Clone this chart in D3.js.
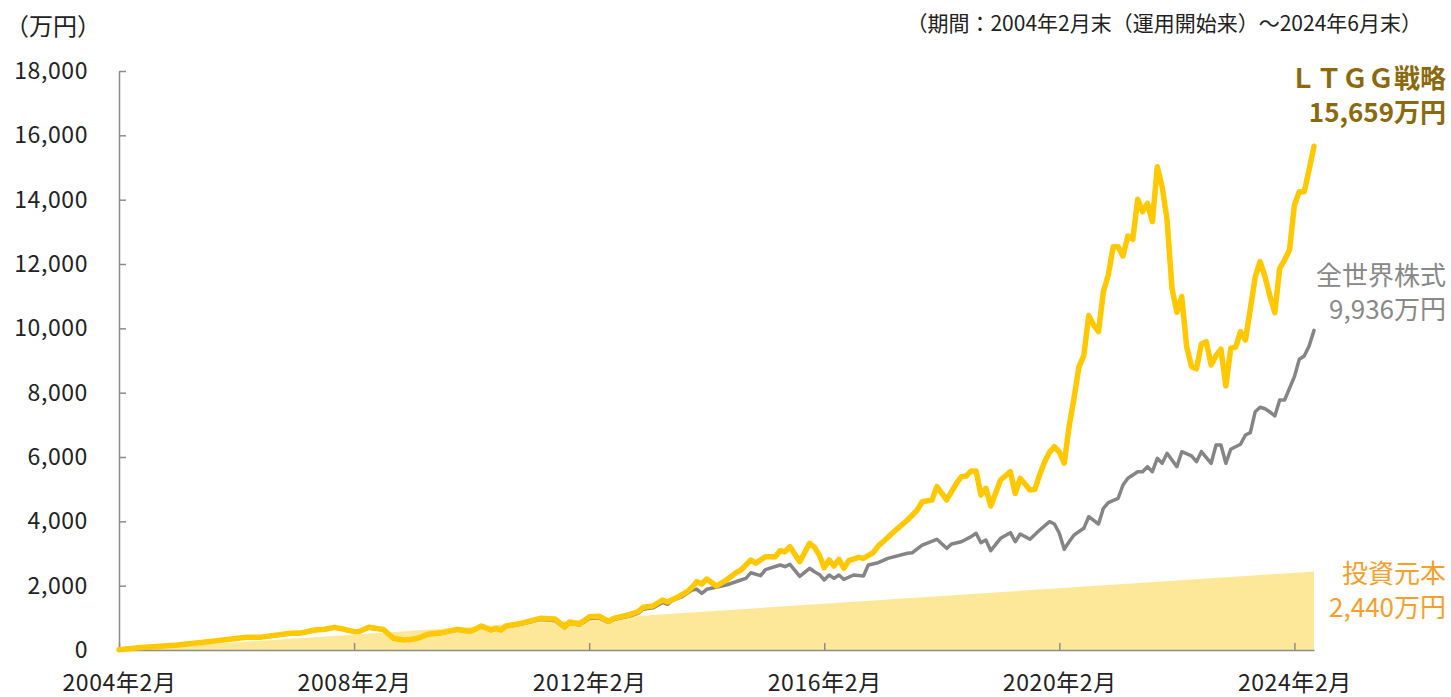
<!DOCTYPE html>
<html lang="ja">
<head>
<meta charset="utf-8">
<script src="https://cdn.jsdelivr.net/npm/d3@7"></script>
<style>
  body { margin: 0; background: #fff; }
  text { font-family: "Noto Sans CJK JP", "Noto Sans", sans-serif; }
</style>
</head>
<body>
<svg id="chart" width="1451" height="697"></svg>
<script>
// months counted from 2004年2月 (0) to 2024年6月 (244), values in 万円
const ltggMonth = [0, 4, 12, 20, 26, 29, 35, 37, 40, 42, 44, 46, 48, 49, 51, 54, 56, 58, 59, 61,
    63, 66, 69, 71, 72, 74, 76, 77, 78, 79, 82, 86, 89, 91, 92, 94, 96, 98, 100, 101,
    104, 106, 107, 109, 111, 112, 114, 116, 117, 118, 119, 120, 122, 124, 126, 127, 129, 130, 132, 134,
    135, 136, 137, 139, 141, 142, 143, 144, 145, 146, 147, 148, 149, 151, 152, 154, 155, 156, 159, 161,
    163, 164, 166, 167, 169, 171, 172, 173, 174, 175, 176, 177, 178, 180, 182, 183, 184, 186, 187, 188,
    189, 190, 191, 192, 193, 194, 195, 196, 197, 198, 199, 200, 201, 202, 203, 204, 205, 206, 207, 208,
    209, 210, 211, 212, 213, 214, 215, 216, 217, 218, 219, 220, 221, 222, 223, 224, 225, 226, 227, 228,
    229, 230, 231, 232, 233, 234, 235, 236, 237, 238, 239, 240, 241, 242, 243, 244];
const ltggValue = [10, 70, 155, 290, 395, 400, 519, 525, 622, 643, 705, 643, 570, 575, 705, 640, 363, 311, 315, 363,
    487, 539, 643, 591, 595, 746, 622, 674, 622, 746, 829, 985, 964, 720, 870, 808, 1030, 1050, 895, 985,
    1088, 1191, 1330, 1368, 1555, 1490, 1638, 1813, 1950, 2124, 2052, 2207, 1990, 2176, 2403, 2487, 2798, 2700, 2901, 2901,
    3087, 3056, 3212, 2745, 3317, 3200, 2950, 2560, 2798, 2612, 2819, 2540, 2777, 2881, 2850, 3025, 3233, 3367, 3783, 4042,
    4353, 4611, 4664, 5077, 4664, 5182, 5388, 5410, 5565, 5565, 4819, 5027, 4477, 5285, 5543, 4872, 5338, 4974, 4996, 5450,
    5850, 6150, 6320, 6150, 5810, 6950, 7826, 8800, 9150, 10400, 10100, 9900, 11140, 11659, 12539, 12539, 12249, 12871, 12768, 14011,
    13627, 13886, 13316, 15020, 14400, 13369, 11245, 10500, 10985, 9430, 8808, 8740, 9514, 9586, 8861, 9150, 9349, 8208, 9380, 9411,
    9896, 9638, 10600, 11607, 12073, 11607, 11000, 10487, 11867, 12125, 12436, 13835, 14250, 14250, 14924, 15659];

const worldMonth = [0, 4, 12, 20, 26, 29, 35, 37, 40, 42, 44, 46, 48, 49, 51, 54, 56, 58, 59, 61,
    63, 66, 69, 71, 72, 74, 76, 77, 78, 79, 82, 86, 89, 91, 92, 94, 96, 98, 100, 101,
    104, 106, 107, 109, 111, 112, 113, 115, 117, 118, 119, 120, 124, 127, 128, 129, 131, 132, 135, 136,
    137, 139, 141, 142, 143, 144, 145, 146, 147, 148, 150, 152, 153, 155, 157, 161, 162, 164, 167, 169,
    170, 172, 174, 175, 176, 177, 178, 180, 182, 183, 184, 186, 188, 190, 191, 192, 193, 194, 195, 197,
    198, 200, 201, 202, 204, 205, 206, 208, 209, 210, 211, 212, 213, 214, 216, 217, 219, 220, 221, 223,
    224, 225, 226, 227, 229, 230, 231, 232, 233, 234, 235, 236, 237, 238, 240, 241, 242, 243, 244];
const worldValue = [10, 65, 150, 282, 385, 390, 505, 512, 605, 628, 690, 628, 555, 560, 685, 620, 350, 300, 303, 350,
    470, 522, 622, 575, 578, 722, 602, 652, 603, 720, 800, 945, 915, 690, 835, 775, 980, 1000, 860, 945,
    1045, 1140, 1270, 1310, 1480, 1420, 1540, 1658, 1865, 1887, 1760, 1887, 2021, 2176, 2228, 2400, 2310, 2500, 2643, 2590,
    2664, 2290, 2540, 2434, 2350, 2176, 2332, 2228, 2332, 2197, 2332, 2300, 2643, 2714, 2850, 3006, 3025, 3264, 3441, 3161,
    3295, 3367, 3523, 3628, 3336, 3420, 3087, 3472, 3647, 3367, 3606, 3441, 3731, 3989, 3917, 3628, 3131, 3367, 3575, 3783,
    4144, 3917, 4405, 4580, 4716, 5130, 5338, 5543, 5543, 5699, 5543, 5960, 5804, 6115, 5699, 6165, 6032, 5854, 6165, 5804,
    6373, 6373, 5804, 6240, 6395, 6684, 6756, 7409, 7546, 7500, 7400, 7275, 7773, 7773, 8497, 9038, 9141, 9450, 9936];

const principalMonth = [0, 244];
const principalValue = [0, 2440];

const xTickMonth = [0, 48, 96, 144, 192, 240];
const xTickLabel = ['2004年2月', '2008年2月', '2012年2月', '2016年2月', '2020年2月', '2024年2月'];
const yTickValues = [0, 2000, 4000, 6000, 8000, 10000, 12000, 14000, 16000, 18000];

const margin = {left: 119, right: 137, top: 71, bottom: 47};
const width = 1451;
const height = 697;

const svg = d3.select('#chart');

const xScale = d3.scaleLinear()
    .domain([0, 244])
    .range([margin.left, width - margin.right]);

const yScale = d3.scaleLinear()
    .domain([0, 18000])
    .range([height - margin.bottom, margin.top]);

const toPoints = (months, values) => months.map((m, i) => ({m: m, v: values[i]}));

// principal area
const area = d3.area()
    .x(d => xScale(d.m))
    .y0(yScale(0))
    .y1(d => yScale(d.v));

svg.append('path')
    .datum(toPoints(principalMonth, principalValue))
    .attr('d', area)
    .style('fill', '#fde89a');

// axes
const xAxis = svg.append('g')
    .attr('transform', `translate(0, ${yScale(0)})`)
    .call(d3.axisBottom(xScale)
        .tickValues(xTickMonth)
        .tickFormat((d, i) => xTickLabel[i])
        .tickSizeInner(-7)
        .tickSizeOuter(0)
        .tickPadding(25));

const yAxis = svg.append('g')
    .attr('transform', `translate(${margin.left}, 0)`)
    .call(d3.axisLeft(yScale)
        .tickValues(yTickValues)
        .tickFormat(d3.format(','))
        .tickSizeInner(-7)
        .tickSizeOuter(0)
        .tickPadding(31));

[xAxis, yAxis].forEach(g => {
    g.selectAll('path, line')
        .style('stroke', '#8c8c8c')
        .style('stroke-width', '1.5');
    g.selectAll('text')
        .style('font-size', '23px')
        .style('letter-spacing', '0.6px')
        .style('fill', '#222')
        .style('font-family', '"Noto Sans CJK JP", sans-serif');
});

// lines
const line = d3.line()
    .x(d => xScale(d.m))
    .y(d => yScale(d.v));

svg.append('path')
    .datum(toPoints(worldMonth, worldValue))
    .attr('d', line)
    .style('fill', 'none')
    .style('stroke', '#858585')
    .style('stroke-width', '3.5')
    .style('stroke-linejoin', 'round')
    .style('stroke-linecap', 'round');

svg.append('path')
    .datum(toPoints(ltggMonth, ltggValue))
    .attr('d', line)
    .style('fill', 'none')
    .style('stroke', '#ffc800')
    .style('stroke-width', '5.5')
    .style('stroke-linejoin', 'round')
    .style('stroke-linecap', 'round');

// header texts
svg.append('text')
    .attr('x', 5)
    .attr('y', 35)
    .style('font-size', '24px')
    .style('fill', '#222')
    .text('（万円）');

svg.append('text')
    .attr('x', 1422)
    .attr('y', 31)
    .attr('text-anchor', 'end')
    .style('font-size', '21px')
    .style('fill', '#222')
    .text('（期間：2004年2月末（運用開始来）～2024年6月末）');

// series labels
const labels = [
    {lines: ['ＬＴＧＧ戦略', '15,659万円'], y: 88, color: '#8a6a0c', weight: 'bold'},
    {lines: ['全世界株式', '9,936万円'], y: 285, color: '#888888', weight: 'normal'},
    {lines: ['投資元本', '2,440万円'], y: 583, color: '#f5a02d', weight: 'normal'}
];

labels.forEach(l => {
    l.lines.forEach((t, i) => {
        svg.append('text')
            .attr('x', 1446)
            .attr('y', l.y + i * 34)
            .attr('text-anchor', 'end')
            .style('font-size', '26px')
            .style('font-weight', l.weight)
            .style('fill', l.color)
            .text(t);
    });
});
</script>
</body>
</html>
